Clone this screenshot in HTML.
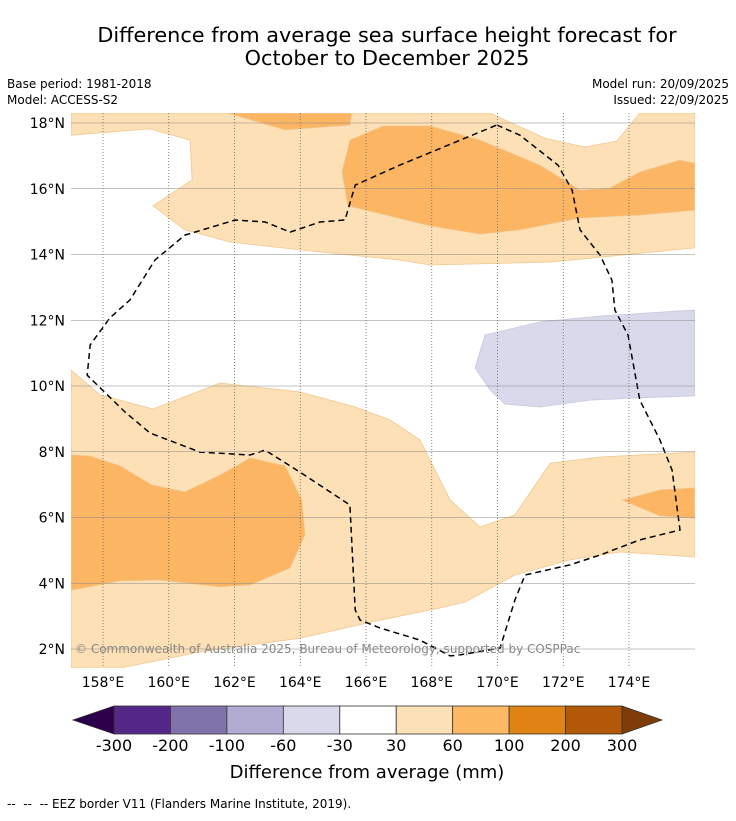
<!DOCTYPE html>
<html><head><meta charset="utf-8">
<style>
body{margin:0;background:#fff;font-family:"Liberation Sans","DejaVu Sans",sans-serif;}
svg text{font-family:"DejaVu Sans","Liberation Sans",sans-serif;}
</style></head>
<body>
<svg id="fig" width="736" height="816" viewBox="0 0 736 816" xmlns="http://www.w3.org/2000/svg">
<text x="387" y="42" font-size="20.8" text-anchor="middle">Difference from average sea surface height forecast for</text>
<text x="387" y="65" font-size="20.8" text-anchor="middle">October to December 2025</text>
<text x="7" y="88" font-size="12">Base period: 1981-2018</text>
<text x="7" y="104" font-size="12">Model: ACCESS-S2</text>
<text x="729" y="88" font-size="12" text-anchor="end">Model run: 20/09/2025</text>
<text x="729" y="104" font-size="12" text-anchor="end">Issued: 22/09/2025</text>
<defs><clipPath id="mapclip"><rect x="71" y="113" width="624" height="555"/></clipPath></defs>
<g id="map" clip-path="url(#mapclip)"></g>
<g id="grid"></g>
<g id="ticks"></g>
<text x="75" y="653" font-size="12" fill="#888">© Commonwealth of Australia 2025, Bureau of Meteorology, supported by COSPPac</text>
<g id="cbar"></g>
<text x="367" y="778" font-size="18" text-anchor="middle">Difference from average (mm)</text>
<text x="7" y="808" font-size="12">-- &#160;-- &#160;-- EEZ border V11 (Flanders Marine Institute, 2019).</text>
</svg>
<script>
const lonTicks=[158,160,162,164,166,168,170,172,174];
const latTicks=[2,4,6,8,10,12,14,16,18];
const levels=[-300,-200,-100,-60,-30,30,60,100,200,300];
const binColors=["#542788","#8073ac","#b2abd2","#d8daeb","#ffffff","#fee0b6","#fdb863","#e08214","#b35806"];
const lowExt="#2d004b", highExt="#7f3b08";
const lightTop=[[157.03,18.3],[157.03,17.63],[159.43,17.82],[160.65,17.48],[160.71,16.27],[159.52,15.48],[160.49,14.75],[161.86,14.38],[163.99,14.14],[167.03,13.83],[167.95,13.68],[171.6,13.77],[176.0,14.2],[176.0,18.3],[174.33,18.3],[173.63,17.45],[172.66,17.27],[171.44,17.54],[169.77,18.3]];
const darkTop=[[161.8,18.3],[163.54,17.79],[165.51,17.94],[165.57,18.3]];
const darkMid=[[165.27,16.51],[165.51,17.48],[166.52,17.91],[167.95,17.91],[169.47,17.48],[171.29,16.72],[172.51,15.96],[173.42,16.02],[174.33,16.51],[175.55,16.87],[176.0,16.78],[176.0,15.35],[174.33,15.2],[172.51,15.11],[170.68,14.75],[169.47,14.62],[167.95,14.87],[165.45,15.48]];
const lavender=[[169.32,10.55],[169.62,11.55],[171.29,11.95],[173.12,12.13],[176.0,12.31],[176.0,9.7],[174.33,9.64],[172.81,9.57],[171.29,9.36],[170.23,9.45],[169.77,9.88]];
const lightBottom=[[157.03,10.49],[157.91,9.73],[159.52,9.3],[161.56,10.09],[163.99,9.82],[165.67,9.36],[166.73,8.97],[167.64,8.36],[168.56,6.53],[169.47,5.71],[170.53,6.08],[171.6,7.65],[173.12,7.84],[176.0,7.99],[176.0,4.8],[173.73,4.95],[172.21,4.71],[170.53,4.25],[169.01,3.43],[168.25,3.25],[166.43,2.88],[163.99,2.33],[160.95,1.91],[158.52,1.42],[157.03,1.42]];
const darkLeft=[[157.03,7.9],[157.6,7.87],[158.52,7.57],[159.49,6.99],[160.49,6.78],[161.56,7.29],[162.47,7.81],[163.54,7.57],[164.05,6.53],[164.14,5.47],[163.69,4.46],[162.47,3.95],[161.56,3.89],[159.73,4.1],[158.52,4.07],[157.03,3.79]];
const darkRight=[[173.79,6.53],[174.94,6.84],[176.0,6.9],[176.0,5.98],[174.94,6.05]];
const eez=[[169.98,17.94],[170.68,17.63],[171.84,16.72],[172.27,15.96],[172.51,14.75],[173.12,13.98],[173.48,13.22],[173.57,12.31],[173.97,11.55],[174.33,9.57],[174.94,8.36],[175.31,7.44],[175.55,5.62],[174.33,5.32],[173.12,4.86],[172.21,4.56],[170.84,4.25],[170.53,3.49],[170.08,2.03],[168.86,1.82],[168.56,1.79],[167.64,2.27],[166.43,2.64],[165.82,2.88],[165.67,3.19],[165.51,6.38],[163.99,7.38],[162.93,8.05],[162.47,7.9],[160.95,7.99],[159.43,8.57],[158.67,9.21],[157.52,10.33],[157.61,11.25],[158.21,12.07],[158.82,12.62],[159.58,13.83],[160.49,14.59],[162.02,15.05],[162.93,14.99],[163.69,14.68],[164.6,14.99],[165.36,15.05],[165.67,16.11],[167.03,16.72],[169.98,17.94]];
const NS="http://www.w3.org/2000/svg";
function xs(lon){return 103+(lon-158)*32.875;}
function ys(lat){return 123+(18-lat)*32.875;}
function mk(tag,attrs,parent){const e=document.createElementNS(NS,tag);for(const k in attrs)e.setAttribute(k,attrs[k]);parent.appendChild(e);return e;}
function pts(a){return a.map(p=>xs(p[0]).toFixed(1)+","+ys(p[1]).toFixed(1)).join(" ");}
const map=document.getElementById('map');
const polys=[[lightTop,"#fde0b5","light-orange-north"],[darkTop,"#fbb563","orange-patch-north"],[darkMid,"#fbb563","orange-patch-central-north"],[lavender,"#d8d9ea","lavender-patch"],[lightBottom,"#fde0b5","light-orange-south"],[darkLeft,"#fbb563","orange-patch-southwest"],[darkRight,"#fbb563","orange-patch-southeast"]];
polys.forEach(p=>{
 const e=mk('polygon',{points:pts(p[0]),fill:p[1],stroke:p[1]==="#d8d9ea"?"#c8c9de":"#f0c890","stroke-width":"0.8"},map);
 
 
});
const grid=document.getElementById('grid');
lonTicks.forEach(l=>{
 const e=mk('line',{x1:xs(l),x2:xs(l),y1:113,y2:668,stroke:"#666","stroke-width":"0.8","stroke-dasharray":"1,2"},grid);
 
 
});
latTicks.forEach(l=>{
 const e=mk('line',{x1:71,x2:695,y1:ys(l),y2:ys(l),stroke:"#888","stroke-width":"0.6"},grid);
 
 
});
const eezLine=mk('polyline',{points:pts(eez),fill:"none",stroke:"#000","stroke-width":"1.5","stroke-dasharray":"6,4"},map);


const tk=document.getElementById('ticks');
lonTicks.forEach(l=>{
 const t=mk('text',{x:xs(l),y:687,"font-size":"14","text-anchor":"middle"},tk);t.textContent=l+"°E";
 
 
});
latTicks.forEach(l=>{
 const t=mk('text',{x:65,y:ys(l)+5,"font-size":"14","text-anchor":"end"},tk);t.textContent=l+"°N";
 
 
});
const cb=document.getElementById('cbar');
const cx0=114,cx1=622,cy=706,ch=28,bw=(cx1-cx0)/binColors.length;
binColors.forEach((c,i)=>{
 const r=mk('rect',{x:cx0+i*bw,y:cy,width:bw,height:ch,fill:c,stroke:"#333","stroke-width":"0.8"},cb);
 
 
});
const le=mk('polygon',{points:`${cx0},${cy} 73,${cy+ch/2} ${cx0},${cy+ch}`,fill:lowExt,stroke:"#333","stroke-width":"0.8"},cb);


const he=mk('polygon',{points:`${cx1},${cy} 662,${cy+ch/2} ${cx1},${cy+ch}`,fill:highExt,stroke:"#333","stroke-width":"0.8"},cb);


levels.forEach((v,i)=>{
 const t=mk('text',{x:cx0+i*bw,y:751,"font-size":"16","text-anchor":"middle"},cb);t.textContent=v;
 
 
});
</script>
</body></html>
